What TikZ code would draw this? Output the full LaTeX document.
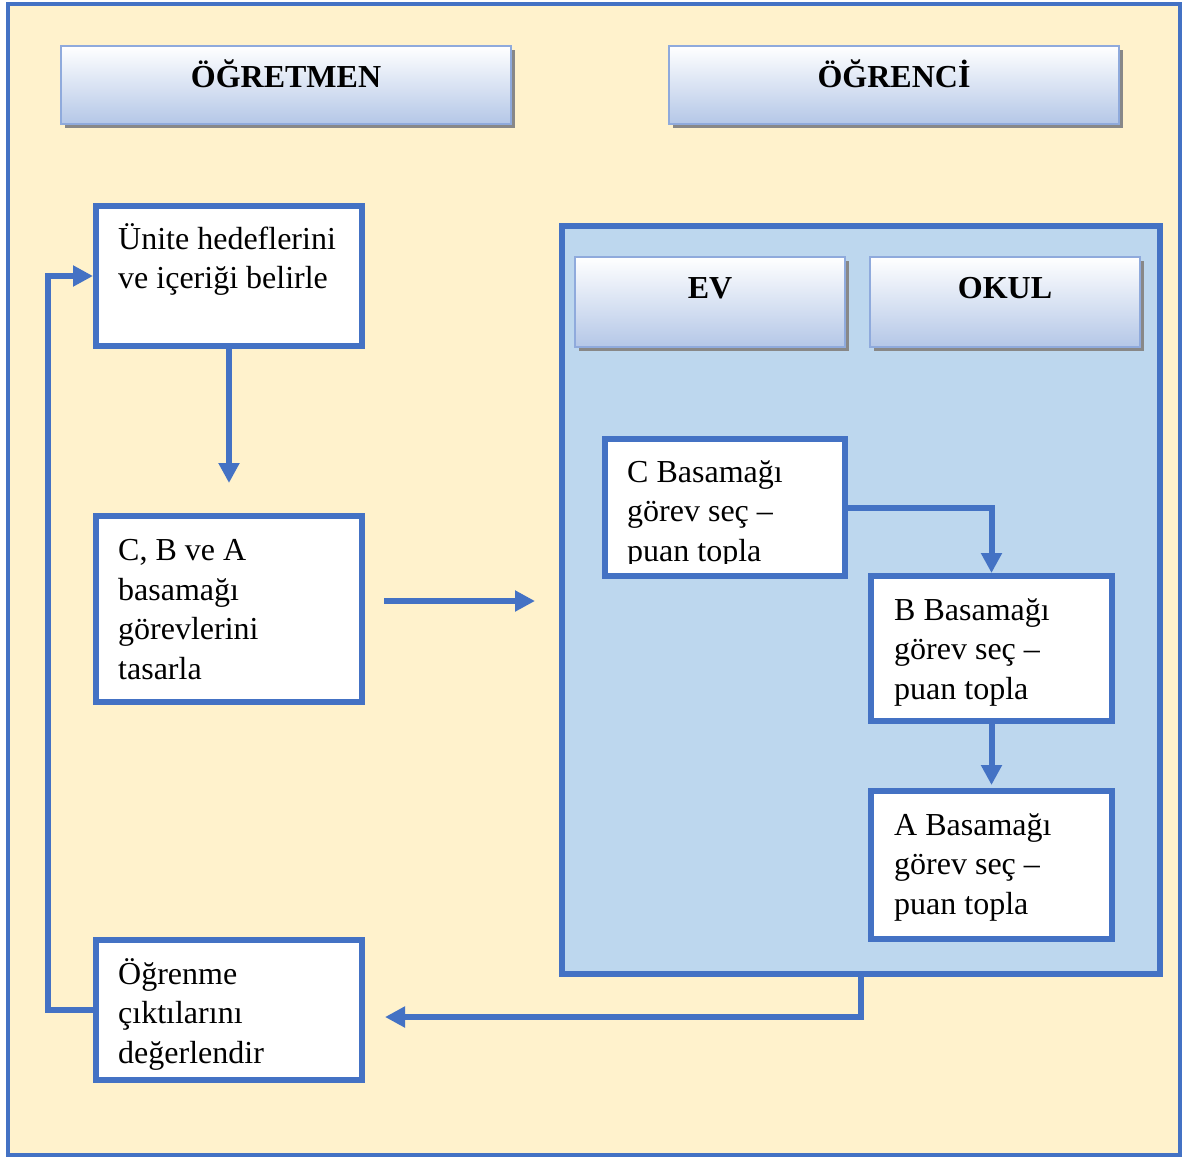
\documentclass[tikz,border=0pt]{standalone}
\usepackage{fontspec}
\setmainfont{Liberation Serif}
\usetikzlibrary{arrows.meta,calc,shadows}

\definecolor{frameblue}{HTML}{4472C4}
\definecolor{paper}{HTML}{FFF2CC}
\definecolor{panel}{HTML}{BDD7EE}
\definecolor{hdrline}{HTML}{8FAADC}
\definecolor{hdrbottom}{HTML}{B4C7E7}
\definecolor{shadowgray}{HTML}{888888}

\begin{document}
\begin{tikzpicture}[x=1pt,y=-1pt,
  stepbox/.style={draw=frameblue, line width=6pt, fill=white, outer sep=0pt,
    inner sep=0pt, anchor=north west},
  header/.style={draw=hdrline, line width=2pt, top color=white,
    bottom color=hdrbottom, outer sep=0pt, inner sep=0pt, anchor=north west,
    drop shadow={shadow xshift=4pt, shadow yshift=-4pt, opacity=1, fill=shadowgray}},
  % multi-line texts are placed by the baseline of their last line
  btext/.style={anchor=base west, align=left, inner sep=0pt,
    font=\fontsize{32}{39.5}\selectfont},
  htext/.style={anchor=base, inner sep=0pt, font=\fontsize{32}{39.5}\selectfont\bfseries},
  flow/.style={draw=frameblue, line width=6pt, -{Triangle[length=20pt,width=20pt]}}
]
\useasboundingbox (0,0) rectangle (1182,1157);
\fill[white] (0,0) rectangle (1182,1157);
\draw[frameblue, line width=4pt, fill=paper] (8,4) rectangle (1180,1155);

% column headers
\node[header, minimum width=450pt, minimum height=78pt] (hteach) at (61,46) {};
\node[htext] (hteacht) at (286,87) {ÖĞRETMEN};
\node[header, minimum width=450pt, minimum height=78pt] (hstud) at (669,46) {};
\node[htext] (hstudt) at (894,87) {ÖĞRENCİ};

% student panel
\node[draw=frameblue, line width=6pt, fill=panel, outer sep=0pt, inner sep=0pt,
  anchor=north west, minimum width=598pt, minimum height=748pt] (ctr) at (562,226) {};
\node[header, minimum width=270pt, minimum height=90pt] (hev) at (575,257) {};
\node[htext] (hevt) at (710,298) {EV};
\node[header, minimum width=270pt, minimum height=90pt] (hokul) at (870,257) {};
\node[htext] (hokult) at (1005,298) {OKUL};

% teacher steps
\node[stepbox, minimum width=266pt, minimum height=140pt] (u1) at (96,206) {};
\node[btext] (u1t) at (118,288.5) {Ünite hedeflerini\\ve içeriği belirle};
\node[stepbox, minimum width=266pt, minimum height=186pt] (u2) at (96,516) {};
\node[btext] (u2t) at (118,679) {C, B ve A\\basamağı\\görevlerini\\tasarla};
\node[stepbox, minimum width=266pt, minimum height=140pt] (u3) at (96,940) {};
\node[btext] (u3t) at (118,1063) {Öğrenme\\çıktılarını\\değerlendir};

% student steps (the text of the first one runs past its box and is cut off)
\node[stepbox, minimum width=240pt, minimum height=137pt] (cb) at (605,439) {};
\begin{scope}
  \clip (605,439) rectangle (845,563);
  \node[btext] (cbt) at (627,561) {C Basamağı\\görev seç –\\puan topla};
\end{scope}
\node[stepbox, minimum width=241pt, minimum height=145pt] (bb) at (871,576) {};
\node[btext] (bbt) at (894,699) {B Basamağı\\görev seç –\\puan topla};
\node[stepbox, minimum width=241pt, minimum height=148pt] (ab) at (871,791) {};
\node[btext] (abt) at (894,914) {A Basamağı\\görev seç –\\puan topla};

% connectors
\coordinate (a1end) at (229,483);
\coordinate (a2start) at (384,601);
\coordinate (a2end) at (535,601);
\coordinate (a3end) at (385,1017);
\coordinate (fbx) at (48,0);

\draw[flow] (u1.south) -- (a1end);
\draw[flow] (a2start) -- (a2end);
\draw[flow, shorten >=3pt] (cb.east) -| (bb.north);
\draw[flow, shorten >=6pt] (bb.south) -- (ab.north);
\draw[flow] (ctr.south) |- (a3end);
\draw[flow, shorten >=3pt] (u3.west) -- (u3.west -| fbx) |- (u1.west);
\end{tikzpicture}
\end{document}
